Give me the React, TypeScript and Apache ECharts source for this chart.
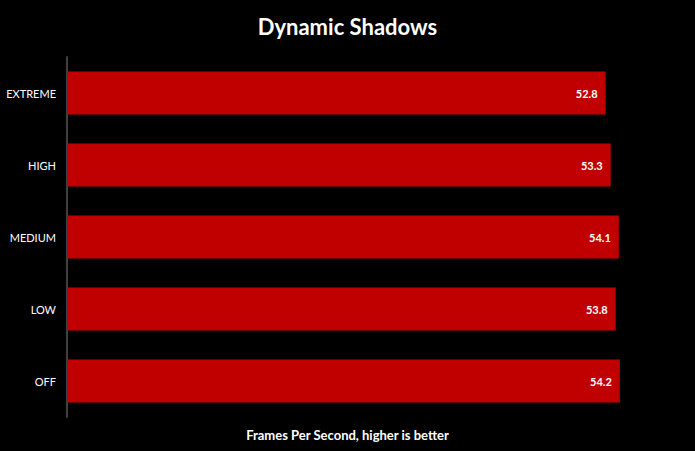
import * as echarts from 'echarts';
import { useEffect, useRef } from 'react';
import type { ECharts } from 'echarts';

const categories = ['EXTREME', 'HIGH', 'MEDIUM', 'LOW', 'OFF'];
const fpsValues = [52.8, 53.3, 54.1, 53.8, 54.2];

const FONT = 'Lato, "Open Sans", sans-serif';

const App = () => {
  const chartRef = useRef<HTMLDivElement>(null);

  useEffect(() => {
    let chart: ECharts | null = null;
    if (chartRef.current !== null) {
      chart = echarts.init(chartRef.current, undefined, { renderer: 'svg' });
    }

    const options = {
      animation: false,
      backgroundColor: '#000000',
      title: [
        {
          text: 'Dynamic Shadows',
          left: 'center',
          top: 10,
          textStyle: {
            color: '#ffffff',
            fontFamily: FONT,
            fontWeight: 'bold',
            fontSize: 22,
          },
        },
        {
          // x axis caption, centred on the whole chart like the original
          text: 'Frames Per Second, higher is better',
          left: 'center',
          top: 423,
          textStyle: {
            color: '#ffffff',
            fontFamily: FONT,
            fontWeight: 'bold',
            fontSize: 13,
          },
        },
      ],
      grid: {
        left: 67,
        right: 16,
        top: 57,
        bottom: 34,
      },
      xAxis: {
        type: 'value',
        min: 0,
        max: 60,
        axisLine: { show: false },
        axisTick: { show: false },
        axisLabel: { show: false },
        splitLine: { show: false },
      },
      yAxis: {
        type: 'category',
        data: categories,
        inverse: true,
        axisLine: { show: true, lineStyle: { color: '#404040', width: 2 } },
        axisTick: { show: false },
        axisLabel: {
          color: '#ffffff',
          fontFamily: FONT,
          fontSize: 11,
          margin: 11,
        },
      },
      series: [
        {
          type: 'bar',
          data: fpsValues,
          barCategoryGap: '40%',
          itemStyle: { color: '#c00000' },
          label: {
            show: true,
            position: 'insideRight',
            distance: 8,
            color: '#ffffff',
            fontFamily: FONT,
            fontWeight: 'bold',
            fontSize: 11,
            formatter: (p: { value: number }) => p.value.toFixed(1),
          },
        },
      ],
    };

    chart?.setOption(options);

    return () => {
      chart?.dispose();
      chart = null;
    };
  }, []);

  return (
    <div
      ref={chartRef}
      style={{ position: 'fixed', left: 0, top: 0, width: 695, height: 451 }}
    ></div>
  );
};
export default App;
